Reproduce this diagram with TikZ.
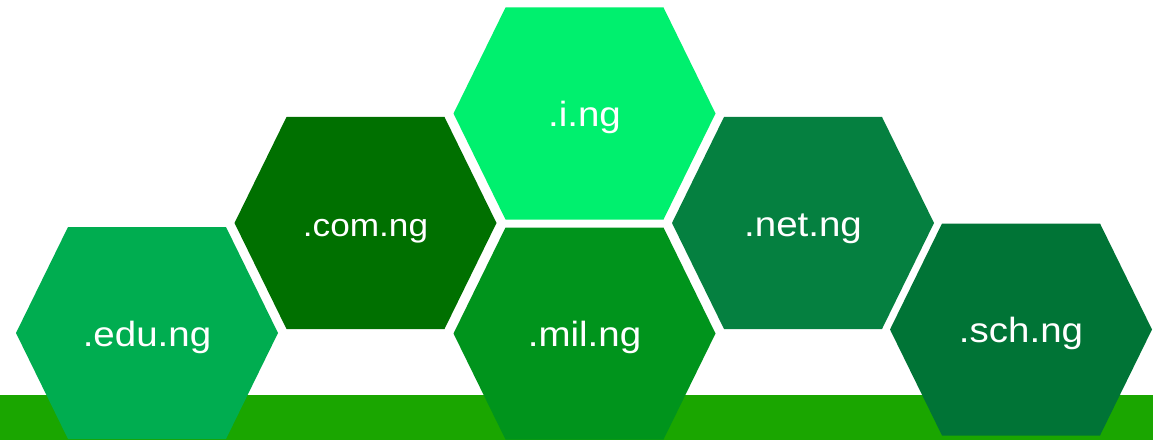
\documentclass[tikz,border=0pt]{standalone}
\usepackage{fontspec}
\setmainfont{Liberation Sans}
\definecolor{bargreen}{RGB}{26,166,0}
\definecolor{edugreen}{RGB}{0,173,80}
\definecolor{comgreen}{RGB}{0,112,0}
\definecolor{inggreen}{RGB}{0,240,110}
\definecolor{milgreen}{RGB}{0,148,28}
\definecolor{netgreen}{RGB}{5,128,64}
\definecolor{schgreen}{RGB}{0,116,54}
\tikzset{
  lbl/.style={text=white, font=\fontsize{35}{42}\selectfont, anchor=base, inner sep=0pt, xscale=1.1, transform shape},
  lblsmall/.style={lbl, font=\fontsize{32}{38}\selectfont},
}
\newcommand\hexcell[6]{%
  \fill[#3] ({#1-131},{#2}) -- ({#1-79},{#2+106}) -- ({#1+79},{#2+106}) -- ({#1+131},{#2}) -- ({#1+79},{#2-106}) -- ({#1-79},{#2-106}) -- cycle;
  \node[#6] (#4) at ({#1},{#2-13}) {#5};
}
\begin{document}
\begin{tikzpicture}[x=1pt,y=1pt]
\useasboundingbox (0,0) rectangle (1153,440);
\fill[white] (0,0) rectangle (1153,440);
\fill[bargreen] (0,0) rectangle (1153,45);
\hexcell{147}{107}{edugreen}{edu}{.edu.ng}{lbl}
\hexcell{365.5}{217}{comgreen}{com}{.com.ng}{lblsmall}
\hexcell{584.5}{326.5}{inggreen}{ing}{.i.ng}{lbl}
\hexcell{584.5}{106.5}{milgreen}{mil}{.mil.ng}{lbl}
\hexcell{803}{217}{netgreen}{net}{.net.ng}{lbl}
\hexcell{1021}{110.5}{schgreen}{sch}{.sch.ng}{lbl}
\end{tikzpicture}
\end{document}
